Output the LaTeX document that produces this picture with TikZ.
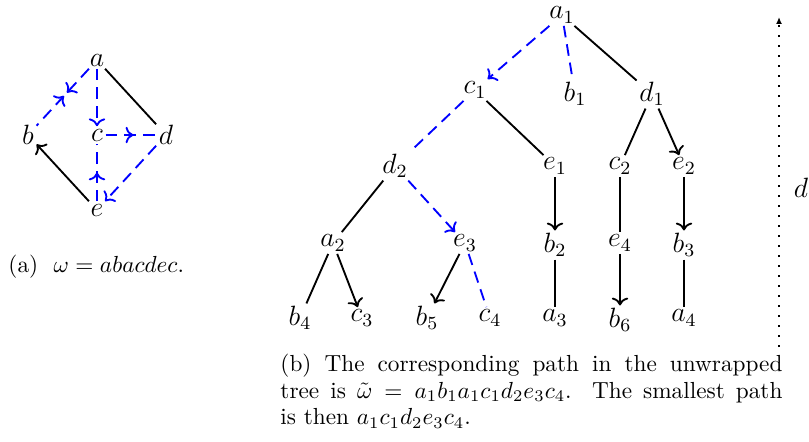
\documentclass[tikz,border=0pt]{standalone}
\usepackage{fontspec}
\usetikzlibrary{decorations.markings,arrows.meta}
\begin{document}
\begin{tikzpicture}[x=0.43pt,y=-0.43pt,
  vtx/.style={inner sep=1pt,font=\large},
  walk/.style={blue,thick,dash pattern=on 5pt off 3pt},
  plain/.style={black,thick},
  fwd/.style={->},
  midfwd/.style={postaction={decorate},decoration={markings,mark=at position #1 with {\arrow{>}}}},
  captext/.style={inner sep=0pt,font=\fontsize{10}{11.4}\selectfont\addfontfeatures{LetterSpace=5}}]
\useasboundingbox (0,0) rectangle (809,441);

% left: the graph
\node[vtx] (a) at (97,60) {$a$};
\node[vtx] (b) at (28,135) {$b$};
\node[vtx] (c) at (97,135) {$c$};
\node[vtx] (d) at (166,135) {$d$};
\node[vtx] (e) at (97,210) {$e$};
\draw[walk,postaction={decorate},decoration={markings,
  mark=at position 0.42 with {\arrow{>}},
  mark=at position 0.58 with {\arrow{<}}}] (a) -- (b);
\draw[walk,fwd] (a) -- (c);
\draw[walk,midfwd=0.55] (c) -- (d);
\draw[walk,fwd] (d) -- (e);
\draw[walk,midfwd=0.5] (e) -- (c);
\draw[plain] (a) -- (d);
\draw[plain,fwd] (e) -- (b);
\node[captext,anchor=base west] (capa) at (8,272) {(a)\ \ $\omega=abacdec.$};

% right: the unwrapped tree
\node[vtx] (a1) at (562,15) {$a_1$};
\node[vtx] (c1) at (475,90) {$c_1$};
\node[vtx] (b1) at (575,94) {$b_1$};
\node[vtx] (d1) at (652,94) {$d_1$};
\node[vtx] (d2) at (395,166) {$d_2$};
\node[vtx] (e1) at (555,166) {$e_1$};
\node[vtx] (c2) at (620,166) {$c_2$};
\node[vtx] (e2) at (684,166) {$e_2$};
\node[vtx] (a2) at (333,243) {$a_2$};
\node[vtx] (e3) at (465,243) {$e_3$};
\node[vtx] (b2) at (555,245) {$b_2$};
\node[vtx] (e4) at (620,243) {$e_4$};
\node[vtx] (b3) at (684,245) {$b_3$};
\node[vtx] (b4) at (300,318) {$b_4$};
\node[vtx] (c3) at (362,318) {$c_3$};
\node[vtx] (b5) at (427,318) {$b_5$};
\node[vtx] (c4) at (490,318) {$c_4$};
\node[vtx] (a3) at (555,318) {$a_3$};
\node[vtx] (b6) at (620,320) {$b_6$};
\node[vtx] (a4) at (684,318) {$a_4$};

\draw[walk,fwd] (a1) -- (c1);
\draw[walk] (a1) -- (b1);
\draw[plain] (a1) -- (d1);
\draw[walk] (c1) -- (d2);
\draw[plain] (c1) -- (e1);
\draw[plain] (d1) -- (c2);
\draw[plain,fwd] (d1) -- (e2);
\draw[plain] (d2) -- (a2);
\draw[walk,fwd] (d2) -- (e3);
\draw[plain,fwd] (e1) -- (b2);
\draw[plain] (c2) -- (e4);
\draw[plain,fwd] (e2) -- (b3);
\draw[plain] (a2) -- (b4);
\draw[plain,fwd] (a2) -- (c3);
\draw[plain,fwd] (e3) -- (b5);
\draw[walk] (e3) -- (c4);
\draw[plain] (b2) -- (a3);
\draw[plain,fwd] (e4) -- (b6);
\draw[plain] (b3) -- (a4);

% depth marker
\coordinate (dbot) at (779,347);
\coordinate (dtop) at (779,17);
\draw[line width=0.7pt,dash pattern=on 0.7pt off 3.6pt,-{Latex[length=3pt,width=2.6pt]}] (dbot) -- (dtop);
\node[vtx] (dl) at (801,188) {$d$};

\node[captext,anchor=north west,text width=502*0.43pt,align=justify] (capb) at (280,354)
  {(b) The corresponding path in the unwrapped\linebreak tree is $\tilde\omega=a_1b_1a_1c_1d_2e_3c_4$. The smallest path\linebreak is then $a_1c_1d_2e_3c_4$.};
\end{tikzpicture}
\end{document}
